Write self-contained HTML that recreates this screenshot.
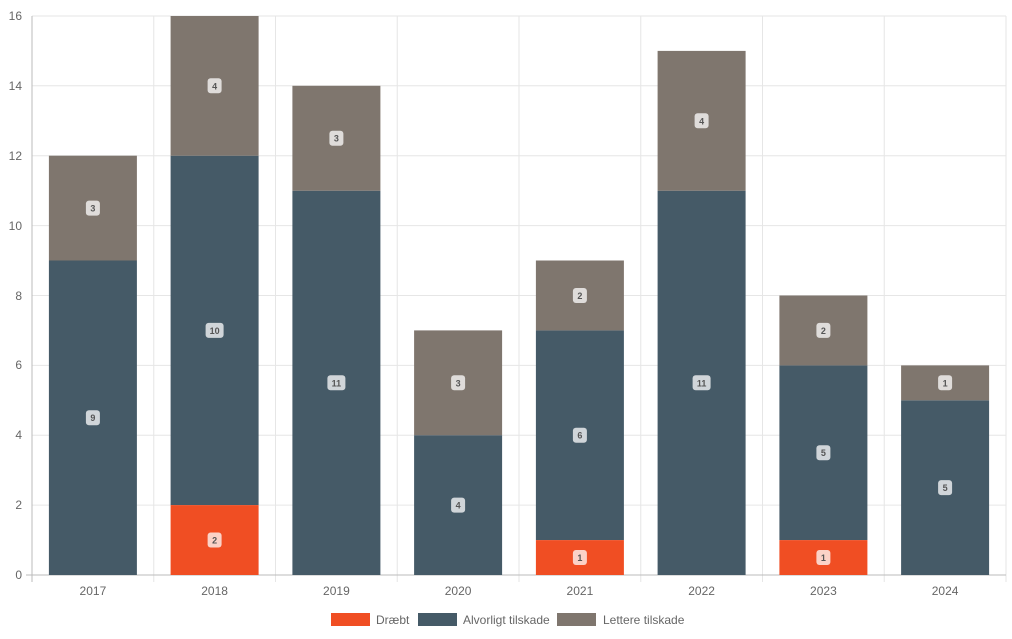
<!DOCTYPE html>
<html><head><meta charset="utf-8"><style>body{margin:0;background:#fff}svg{display:block;font-family:"Liberation Sans",sans-serif}</style></head><body>
<svg width="1012" height="639" xmlns="http://www.w3.org/2000/svg">
<g stroke="#e6e6e6" stroke-width="1">
<line x1="32" y1="505.1" x2="1006" y2="505.1"/><line x1="32" y1="435.2" x2="1006" y2="435.2"/><line x1="32" y1="365.4" x2="1006" y2="365.4"/><line x1="32" y1="295.5" x2="1006" y2="295.5"/><line x1="32" y1="225.6" x2="1006" y2="225.6"/><line x1="32" y1="155.7" x2="1006" y2="155.7"/><line x1="32" y1="85.8" x2="1006" y2="85.8"/><line x1="32" y1="16" x2="1006" y2="16"/>
<line x1="153.75" y1="16" x2="153.75" y2="582"/><line x1="275.5" y1="16" x2="275.5" y2="582"/><line x1="397.25" y1="16" x2="397.25" y2="582"/><line x1="519" y1="16" x2="519" y2="582"/><line x1="640.75" y1="16" x2="640.75" y2="582"/><line x1="762.5" y1="16" x2="762.5" y2="582"/><line x1="884.25" y1="16" x2="884.25" y2="582"/><line x1="1006" y1="16" x2="1006" y2="582"/>
</g>
<g stroke="#bbb"><line x1="32" y1="16" x2="32" y2="582"/><line x1="26" y1="575" x2="1006" y2="575"/></g>
<g font-size="12" fill="#666" text-anchor="end">
<text x="22" y="579">0</text><text x="22" y="509">2</text><text x="22" y="439">4</text><text x="22" y="369">6</text><text x="22" y="300">8</text><text x="22" y="230">10</text><text x="22" y="160">12</text><text x="22" y="90">14</text><text x="22" y="20">16</text>
</g>
<g font-size="12" fill="#666" text-anchor="middle">
<text x="92.9" y="595">2017</text><text x="214.6" y="595">2018</text><text x="336.4" y="595">2019</text><text x="458.1" y="595">2020</text><text x="579.9" y="595">2021</text><text x="701.6" y="595">2022</text><text x="823.4" y="595">2023</text><text x="945.1" y="595">2024</text>
</g>
<g fill="#455a67">
<rect x="48.9" y="260.5" width="88" height="314.5"/><rect x="170.6" y="155.7" width="88" height="349.4"/><rect x="292.4" y="190.7" width="88" height="384.3"/><rect x="414.1" y="435.2" width="88" height="139.8"/><rect x="535.9" y="330.4" width="88" height="209.7"/><rect x="657.6" y="190.7" width="88" height="384.3"/><rect x="779.4" y="365.4" width="88" height="174.7"/><rect x="901.1" y="400.3" width="88" height="174.7"/>
</g>
<g fill="#7f766e">
<rect x="48.9" y="155.7" width="88" height="104.8"/><rect x="170.6" y="16" width="88" height="139.7"/><rect x="292.4" y="85.8" width="88" height="104.9"/><rect x="414.1" y="330.4" width="88" height="104.8"/><rect x="535.9" y="260.5" width="88" height="69.9"/><rect x="657.6" y="50.9" width="88" height="139.8"/><rect x="779.4" y="295.5" width="88" height="69.9"/><rect x="901.1" y="365.4" width="88" height="34.9"/>
</g>
<g fill="#f04e23">
<rect x="170.6" y="505.1" width="88" height="69.9"/><rect x="535.9" y="540.1" width="88" height="34.9"/><rect x="779.4" y="540.1" width="88" height="34.9"/>
</g>
<g font-size="9" font-weight="bold" text-anchor="middle" fill="#555">
<g fill="#fff" fill-opacity="0.75">
<rect x="85.9" y="200.6" width="14" height="15" rx="3"/><rect x="85.9" y="410.2" width="14" height="15" rx="3"/>
<rect x="207.6" y="78.3" width="14" height="15" rx="3"/><rect x="205.6" y="322.9" width="18" height="15" rx="3"/><rect x="207.6" y="532.5" width="14" height="15" rx="3"/>
<rect x="329.4" y="130.7" width="14" height="15" rx="3"/><rect x="327.4" y="375.3" width="18" height="15" rx="3"/>
<rect x="451.1" y="375.3" width="14" height="15" rx="3"/><rect x="451.1" y="497.6" width="14" height="15" rx="3"/>
<rect x="572.9" y="288" width="14" height="15" rx="3"/><rect x="572.9" y="427.7" width="14" height="15" rx="3"/><rect x="572.9" y="550" width="14" height="15" rx="3"/>
<rect x="694.6" y="113.3" width="14" height="15" rx="3"/><rect x="692.6" y="375.3" width="18" height="15" rx="3"/>
<rect x="816.4" y="322.9" width="14" height="15" rx="3"/><rect x="816.4" y="445.2" width="14" height="15" rx="3"/><rect x="816.4" y="550" width="14" height="15" rx="3"/>
<rect x="938.1" y="375.3" width="14" height="15" rx="3"/><rect x="938.1" y="480.1" width="14" height="15" rx="3"/>
</g>
<text x="92.9" y="211.6">3</text><text x="92.9" y="421.2">9</text>
<text x="214.6" y="89.3">4</text><text x="214.6" y="333.9">10</text><text x="214.6" y="543.5">2</text>
<text x="336.4" y="141.7">3</text><text x="336.4" y="386.3">11</text>
<text x="458.1" y="386.3">3</text><text x="458.1" y="508.6">4</text>
<text x="579.9" y="299">2</text><text x="579.9" y="438.7">6</text><text x="579.9" y="561">1</text>
<text x="701.6" y="124.3">4</text><text x="701.6" y="386.3">11</text>
<text x="823.4" y="333.9">2</text><text x="823.4" y="456.2">5</text><text x="823.4" y="561">1</text>
<text x="945.1" y="386.3">1</text><text x="945.1" y="491.1">5</text>
</g>
<rect x="331" y="613" width="39" height="13" fill="#f04e23"/>
<rect x="418" y="613" width="39" height="13" fill="#455a67"/>
<rect x="557" y="613" width="39" height="13" fill="#7f766e"/>
<g font-size="12" fill="#666"><text x="376" y="624">Dræbt</text><text x="463" y="624">Alvorligt tilskade</text><text x="603" y="624">Lettere tilskade</text></g>
</svg>
</body></html>
